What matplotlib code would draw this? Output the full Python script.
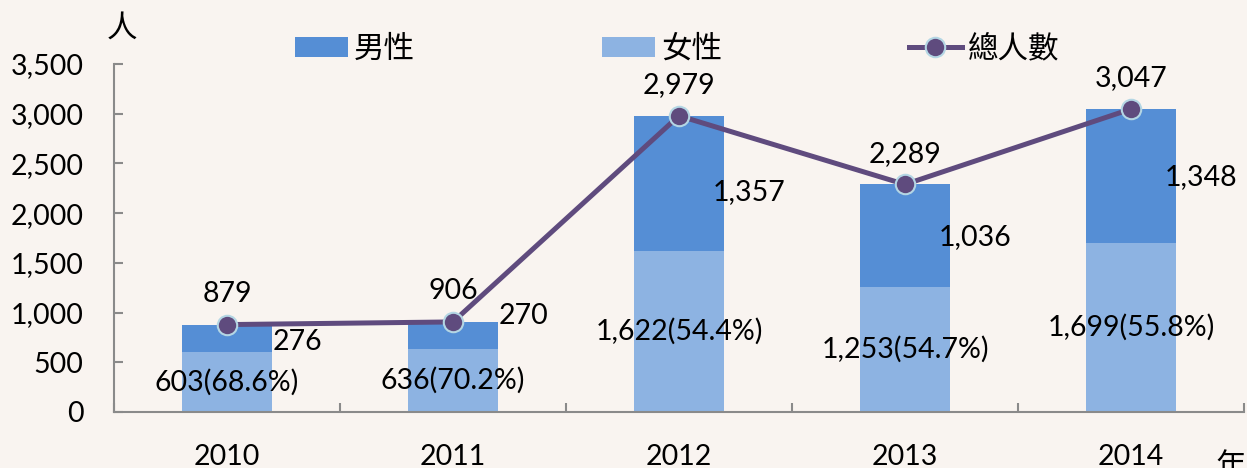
import matplotlib

matplotlib.use('Agg')
matplotlib.rcParams['font.family'] = ['Lato', 'Noto Sans CJK TC', 'DejaVu Sans']
matplotlib.rcParams['font.size'] = 20.5

import matplotlib.pyplot as plt

years = ['2010', '2011', '2012', '2013', '2014']
female = [603, 636, 1622, 1253, 1699]
male = [276, 270, 1357, 1036, 1348]
total = [879, 906, 2979, 2289, 3047]

# nudges (points) for the male labels, as placed in the original
male_dy = [-3, 14, -6, -1, -1]

bg = '#f9f4f0'
c_male = '#558ed5'
c_female = '#8db3e2'
c_line = '#5f4b7e'
c_axis = '#8a8a8a'

fig = plt.figure(figsize=(12.47, 4.68), dpi=100, facecolor=bg)
ax = fig.add_axes([114 / 1247, 1 - 412 / 468, 1130 / 1247, 348 / 468])
ax.set_facecolor('none')

x = list(range(len(years)))
b_f = ax.bar(x, female, width=0.4, color=c_female, zorder=2)
b_m = ax.bar(x, male, width=0.4, bottom=female, color=c_male, zorder=2)
ln, = ax.plot(x, total, color=c_line, lw=3.6, marker='o', ms=14,
              mfc=c_line, mec='#b4d6e4', mew=1.5, zorder=3)

for i in x:
    ax.annotate(f'{total[i]:,}', (i, total[i]), xytext=(0, 22),
                textcoords='offset points', ha='center', va='center')
    pct = female[i] / total[i] * 100
    ax.text(i, female[i] / 2, f'{female[i]:,}({pct:.1f}%)',
            ha='center', va='center', zorder=4)
    ax.annotate(f'{male[i]:,}', (i + 0.31, female[i] + male[i] / 2),
                xytext=(0, male_dy[i]), textcoords='offset points',
                ha='center', va='center', zorder=4)

ax.set_xlim(-0.5, 4.5)
ax.set_ylim(0, 3500)
ax.set_yticks(range(0, 3501, 500))
ax.set_yticklabels([f'{v:,}' for v in range(0, 3501, 500)])
ax.tick_params(axis='y', direction='in', length=6.5, width=1.5,
               color=c_axis, pad=22)

ax.set_xticks([i - 0.5 for i in range(len(years) + 1)])
ax.set_xticklabels([])
ax.set_xticks(x, minor=True)
ax.set_xticklabels(years, minor=True)
ax.tick_params(axis='x', which='major', direction='in', length=6.5,
               width=1.5, color=c_axis)
ax.tick_params(axis='x', which='minor', length=0, pad=23)

for s in ['top', 'right']:
    ax.spines[s].set_visible(False)
for s in ['left', 'bottom']:
    ax.spines[s].set_color(c_axis)
    ax.spines[s].set_linewidth(1.5)

fig.legend([b_m, b_f, ln], ['男性', '女性', '總人數'], ncol=3,
           loc='center', bbox_to_anchor=(0.543, 0.895), frameon=False,
           prop={'size': 22, 'weight': 'light'},
           handlelength=1.75, handleheight=0.65,
           handletextpad=0.2, columnspacing=6.1)

fig.text(122 / 1247, 1 - 28 / 468, '人', ha='center', va='center',
         fontsize=22, fontweight='light')
fig.text(1216 / 1247, 1 - 452 / 468, '年', ha='left', va='top',
         fontsize=22, fontweight='light')

fig.savefig('out.png', dpi=100, facecolor=bg)
